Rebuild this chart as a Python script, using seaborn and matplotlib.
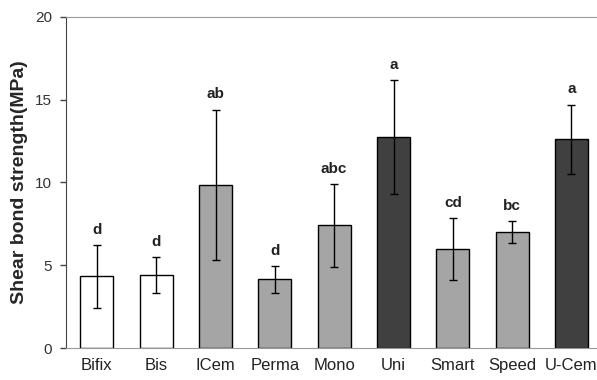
import pandas as pd
import numpy as np
import matplotlib.pyplot as plt
import seaborn as sns

# data
groups = ['Bifix', 'Bis', 'ICem', 'Perma', 'Mono', 'Uni', 'Smart', 'Speed', 'U-Cem']
means = [4.33, 4.41, 9.85, 4.15, 7.40, 12.75, 5.98, 7.02, 12.6]
sds = [1.9, 1.1, 4.55, 0.8, 2.5, 3.45, 1.85, 0.65, 2.1]
letters = ['d', 'd', 'ab', 'd', 'abc', 'a', 'cd', 'bc', 'a']
fill = ['white', 'white', '#a5a5a5', '#a5a5a5', '#a5a5a5', '#404040', '#a5a5a5', '#a5a5a5', '#404040']

df = pd.DataFrame({'group': groups, 'mean': means, 'sd': sds})

sns.set_style('white')
plt.rcParams['font.family'] = ['Liberation Sans', 'DejaVu Sans']

fig = plt.figure(figsize=(5.97, 3.8), dpi=100)
ax = fig.add_axes([0.1106, 0.0842, 0.8894, 0.8713])

sns.barplot(data=df, x='group', y='mean', hue='group', palette=fill, legend=False,
            width=0.56, edgecolor='black', linewidth=1.0, ax=ax)
ax.errorbar(np.arange(len(groups)), df['mean'], yerr=df['sd'], fmt='none',
            ecolor='black', elinewidth=1.0, capsize=3, capthick=1.0)

for i, (m, s, t) in enumerate(zip(means, sds, letters)):
    ax.text(i, m + s + 0.5, t, ha='center', va='bottom', fontsize=11,
            fontweight='bold', color='#222222')

ax.set_xlim(-0.52, 8.43)
ax.set_ylim(0, 20)
ax.set_yticks([0, 5, 10, 15, 20])
ax.set_xlabel('')
ax.set_ylabel('Shear bond strength(MPa)', fontsize=14, fontweight='bold', labelpad=5)
ax.tick_params(axis='y', direction='out', length=4, width=1, color='#444444',
               labelsize=11, labelcolor='#333333', pad=6, left=True)
ax.tick_params(axis='x', length=0, labelsize=12, labelcolor='#222222', pad=7)

ax.spines['right'].set_visible(False)
ax.spines['top'].set_color('#999999')
ax.spines['left'].set_color('#444444')
ax.spines['bottom'].set_color('#999999')

fig.savefig('out.png', dpi=100)
